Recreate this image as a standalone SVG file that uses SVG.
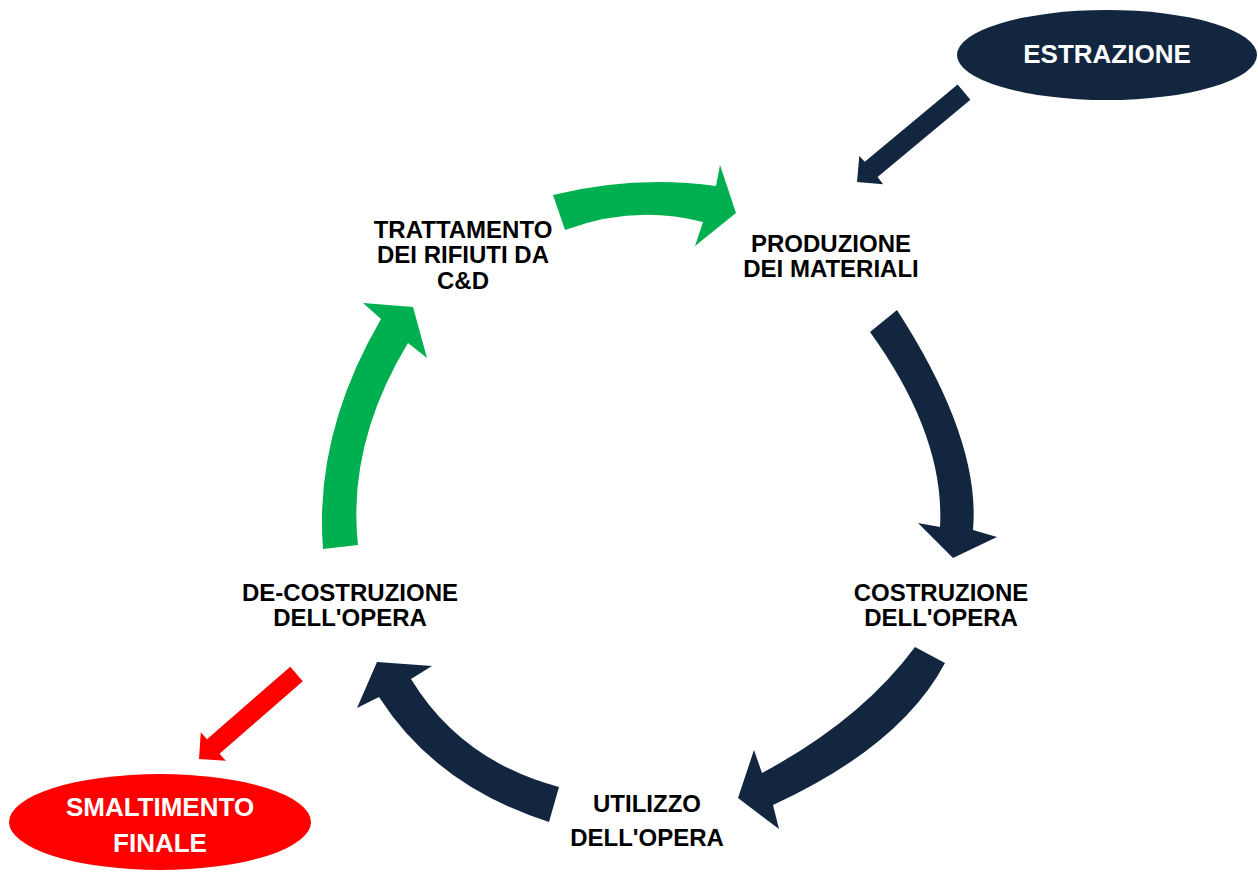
<svg xmlns="http://www.w3.org/2000/svg" width="1258" height="872" viewBox="0 0 1258 872">
<style>
.lbl{font-family:"Liberation Sans",Arial,sans-serif;font-weight:bold;font-size:24px;fill:#000;text-anchor:middle}
.wl{font-family:"Liberation Sans",Arial,sans-serif;font-weight:bold;font-size:26px;fill:#fff;text-anchor:middle}
.navy{fill:#12263f}
.green{fill:#00b050}
.red{fill:#ff0000}
</style>
<rect width="1258" height="872" fill="#fff"/>
<g id="connectors">
<path class="green" d="M553,195 Q635,175 716,186 L720,165 L736,213 L695,246 L703,222 Q634,204 565,230 Z"/>
<path class="navy" d="M897,310 Q981,440 973,530 L997,537 L953,558 L918,523 L940,527 Q945,436 870,332 Z"/>
<path class="navy" d="M915,647 L945,663 Q901,746 773,805 L779,829 L738,798 L754,750 L762,773 Q861,720 915,647 Z"/>
<path class="navy" d="M559,787 L549,822 Q436,786 379,697 L357,708 L377,662 L432,666 L411,679 Q461,761 559,787 Z"/>
<path class="green" d="M323,549 Q314,434 381,319 L363,303 L413,307 L427,358 L408,343 Q347,444 358,545 Z"/>
<polygon class="navy" points="957.6,84.4 970.4,99.7 877.6,177.1 883.1,184.3 857,182 859.3,155.9 864.8,161.8"/>
<polygon class="red" points="290.2,666.8 302.8,681.2 219.5,753.7 225.8,760.8 199,759 200.8,732.2 207.0,739.3"/>
</g>
<g id="estrazione">
<ellipse class="navy" cx="1107" cy="55" rx="150" ry="45"/>
<text class="wl" x="1107" y="63">ESTRAZIONE</text>
</g>
<g id="smaltimento">
<ellipse class="red" cx="160" cy="822" rx="151" ry="48"/>
<text class="wl" x="160" y="816">SMALTIMENTO</text>
<text class="wl" x="160" y="852">FINALE</text>
</g>
<g id="produzione">
<text class="lbl" x="831" y="252">PRODUZIONE</text>
<text class="lbl" x="831" y="277">DEI MATERIALI</text>
</g>
<g id="costruzione">
<text class="lbl" x="941" y="601">COSTRUZIONE</text>
<text class="lbl" x="941" y="626">DELL'OPERA</text>
</g>
<g id="utilizzo">
<text class="lbl" x="647" y="812">UTILIZZO</text>
<text class="lbl" x="647" y="846">DELL'OPERA</text>
</g>
<g id="decostruzione">
<text class="lbl" x="350" y="601">DE-COSTRUZIONE</text>
<text class="lbl" x="350" y="626">DELL'OPERA</text>
</g>
<g id="trattamento">
<text class="lbl" x="463" y="238">TRATTAMENTO</text>
<text class="lbl" x="463" y="263">DEI RIFIUTI DA</text>
<text class="lbl" x="463" y="289">C&amp;D</text>
</g>
</svg>
